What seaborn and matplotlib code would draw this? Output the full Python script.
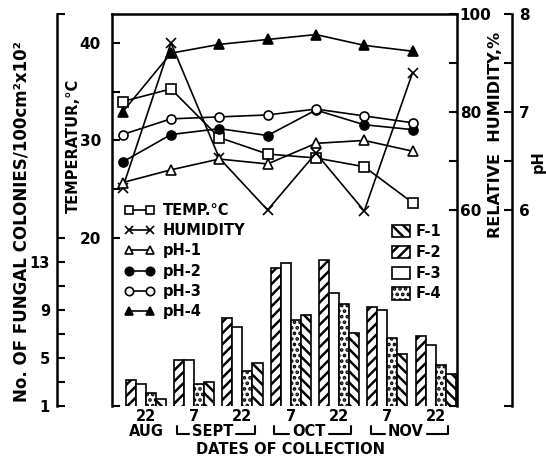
import numpy as np
import pandas as pd
import matplotlib
matplotlib.use("Agg")
import matplotlib.pyplot as plt
import matplotlib.transforms as mtransforms
from matplotlib.lines import Line2D
from matplotlib.patches import Patch
import seaborn as sns

# data
collection = ["22 AUG", "7 SEPT", "22 SEPT", "7 OCT", "22 OCT", "7 NOV", "22 NOV"]
day_labels = ["22", "7", "22", "7", "22", "7", "22"]
months = ["AUG", "SEPT", "OCT", "NOV"]
month_groups = [(0, 0), (1, 2), (3, 4), (5, 6)]

# fungal colonies / 100 cm2 x 10^2
f1 = [1.6, 3.0, 4.6, 8.6, 7.1, 5.3, 3.7]
f2 = [3.2, 4.8, 8.3, 12.5, 13.2, 9.3, 6.8]
f3 = [2.8, 4.8, 7.6, 12.9, 10.4, 9.0, 6.1]
f4 = [2.1, 2.8, 3.9, 8.2, 9.5, 6.7, 4.4]

temp = [34.0, 35.3, 30.3, 28.6, 28.2, 27.3, 23.6]
humidity = [64.5, 94.1, 70.6, 60.0, 71.6, 59.8, 88.0]
ph1 = [6.28, 6.41, 6.52, 6.47, 6.68, 6.71, 6.60]
ph2 = [6.49, 6.77, 6.83, 6.76, 7.02, 6.87, 6.82]
ph3 = [6.77, 6.93, 6.95, 6.97, 7.03, 6.96, 6.89]
ph4 = [7.00, 7.60, 7.69, 7.74, 7.79, 7.68, 7.62]

sns.set_style("ticks")
plt.rcParams["font.family"] = ["DejaVu Sans"]
plt.rcParams["font.weight"] = "bold"
plt.rcParams["hatch.linewidth"] = 1.8
for key in ["axes.edgecolor", "xtick.color", "ytick.color", "text.color", "axes.labelcolor"]:
    plt.rcParams[key] = "black"
FS = 10.5

bars = pd.DataFrame({
    "collection": collection * 4,
    "fungus": ["F-1"] * 7 + ["F-2"] * 7 + ["F-3"] * 7 + ["F-4"] * 7,
    "count": f1 + f2 + f3 + f4,
})

W, H = 546, 463
fig = plt.figure(figsize=(W / 100, H / 100), dpi=100)
ax = fig.add_axes([112 / W, 1 - 406 / H, 345 / W, 392 / H])

hue_order = ["F-2", "F-3", "F-4", "F-1"]
hatches = {"F-1": "\\\\\\", "F-2": "///", "F-3": "", "F-4": "..."}
sns.barplot(data=bars, x="collection", y="count", hue="fungus", order=collection,
            hue_order=hue_order, palette={k: "white" for k in hue_order},
            width=0.83, gap=0, saturation=1, edgecolor="black", linewidth=1.2,
            legend=False, ax=ax)
for cont, name in zip(ax.containers, hue_order):
    for b in cont:
        b.set_hatch(hatches[name])

ax_t = ax.twinx()
ax_h = ax.twinx()
ax_p = ax.twinx()

xl = np.arange(len(collection)) - 0.48
line_kw = dict(color="black", linewidth=1.2, markersize=6.5, markeredgewidth=1.2,
               markeredgecolor="black", sort=False)
sns.lineplot(x=xl, y=temp, ax=ax_t, marker="s", markerfacecolor="white", **line_kw)
sns.lineplot(x=xl, y=humidity, ax=ax_h, marker="x", **line_kw)
sns.lineplot(x=xl, y=ph1, ax=ax_p, marker="^", markerfacecolor="white", **line_kw)
sns.lineplot(x=xl, y=ph2, ax=ax_p, marker="o", markerfacecolor="black", **line_kw)
sns.lineplot(x=xl, y=ph3, ax=ax_p, marker="o", markerfacecolor="white", **line_kw)
sns.lineplot(x=xl, y=ph4, ax=ax_p, marker="^", markerfacecolor="black", **line_kw)

ax.set_xlim(-0.70, 6.44)
ax.set_ylim(1, 33.7)
ax_t.set_ylim(2.7, 43)
ax_h.set_ylim(20, 100)
ax_p.set_ylim(4, 8)

for a in (ax, ax_t, ax_h, ax_p):
    for s in a.spines.values():
        s.set_visible(False)
        s.set_linewidth(1.8)
        s.set_color("black")
    a.set_xlabel("")
    a.set_ylabel("")

# fungal colonies axis (outer left)
ax.spines["left"].set_visible(True)
ax.spines["left"].set_position(("outward", 39.6))
ax.set_yticks([1, 5, 9, 13])
ax.set_yticks([3, 7, 11, 15, 33.69], minor=True)
ax.tick_params(axis="y", which="both", direction="in", length=6, width=1.5,
               labelsize=FS, pad=5)
ax.set_xticks(range(len(collection)))
ax.set_xticklabels(day_labels, fontsize=FS, fontweight="bold")
ax.tick_params(axis="x", length=0, pad=2)

# temperature axis (box left)
ax_t.spines["left"].set_visible(True)
ax_t.spines["top"].set_visible(True)
ax_t.yaxis.set_ticks_position("left")
ax_t.set_yticks([20, 30, 40])
ax_t.set_yticks([2.72, 25, 35], minor=True)
ax_t.tick_params(axis="y", which="both", direction="in", length=6, width=1.5,
                 labelsize=FS + 0.5, pad=8)

# humidity axis (box right)
ax_h.spines["right"].set_visible(True)
ax_h.set_yticks([60, 80, 100])
ax_h.set_yticks([20.05, 70, 90], minor=True)
ax_h.tick_params(axis="y", which="both", direction="in", length=6, width=1.5,
                 labelsize=FS + 0.5, pad=2)

# pH axis (outer right)
ax_p.spines["right"].set_visible(True)
ax_p.spines["right"].set_position(("outward", 39.6))
ax_p.set_yticks([6, 7, 8])
ax_p.set_yticks([4.005, 6.5, 7.5], minor=True)
ax_p.tick_params(axis="y", which="both", direction="in", length=6, width=1.5,
                 labelsize=FS + 0.5, pad=5)

for a in (ax, ax_t, ax_h, ax_p):
    for lab in a.get_yticklabels():
        lab.set_fontweight("bold")

# axis titles
def fx(px):
    return px / W

def fy(py):
    return 1 - py / H

fig.text(fx(22), fy(222), "No. OF FUNGAL COLONIES/100cm\u00b2x10\u00b2", rotation=90,
         ha="center", va="center", fontsize=12, fontweight="bold")
fig.text(fx(73), fy(146), "TEMPERATUR,\u00b0C", rotation=90,
         ha="center", va="center", fontsize=FS, fontweight="bold")
fig.text(fx(495), fy(135), "RELATIVE  HUMIDITY,%", rotation=90,
         ha="center", va="center", fontsize=11.5, fontweight="bold")
fig.text(fx(538), fy(162), "pH", rotation=90,
         ha="center", va="center", fontsize=FS, fontweight="bold")

# month row with brackets
trans = mtransforms.blended_transform_factory(ax.transData, ax.transAxes)
y_mon = -0.066
y_top, y_base = -0.052, -0.071
month_texts = []
for name, (a0, a1) in zip(months, month_groups):
    xc = (a0 + a1) / 2 - (0.12 if a1 > a0 else -0.02)
    t = ax.text(xc, y_mon, name, transform=trans, ha="center", va="center",
                fontsize=FS, fontweight="bold")
    month_texts.append((t, a0, a1))
ax.text(3, -0.112, "DATES OF COLLECTION", transform=trans, ha="center",
        va="center", fontsize=FS, fontweight="bold")

fig.canvas.draw()
inv = ax.transData.inverted()
for t, a0, a1 in month_texts:
    if a1 == a0:
        continue
    bb = t.get_window_extent()
    x_l = inv.transform((bb.x0 - 3, 0))[0]
    x_r = inv.transform((bb.x1 + 3, 0))[0]
    ax.plot([a0 - 0.35, a0 - 0.35, x_l], [y_top, y_base, y_base], transform=trans,
            color="black", lw=1.5, clip_on=False)
    ax.plot([x_r, a1 + 0.25, a1 + 0.25], [y_base, y_base, y_top], transform=trans,
            color="black", lw=1.5, clip_on=False)

# legends
mk = dict(color="black", lw=1.2, markersize=6, markeredgewidth=1.2, markeredgecolor="black")
line_handles = [
    Line2D([], [], marker="s", markerfacecolor="white", **mk),
    Line2D([], [], marker="x", **mk),
    Line2D([], [], marker="^", markerfacecolor="white", **mk),
    Line2D([], [], marker="o", markerfacecolor="black", **mk),
    Line2D([], [], marker="o", markerfacecolor="white", **mk),
    Line2D([], [], marker="^", markerfacecolor="black", **mk),
]
line_labels = ["TEMP.\u00b0C", "HUMIDITY", "pH-1", "pH-2", "pH-3", "pH-4"]
leg1 = ax_p.legend(line_handles, line_labels, loc="upper left",
                   bbox_to_anchor=(fx(125), fy(203)), bbox_transform=fig.transFigure,
                   frameon=False, numpoints=2, handlelength=2.0, handletextpad=0.6,
                   labelspacing=0.36, borderpad=0, borderaxespad=0,
                   prop={"size": FS, "weight": "bold"})
ax_p.add_artist(leg1)

bar_handles = [Patch(facecolor="white", edgecolor="black", hatch=hatches[k], lw=1.2)
               for k in ["F-1", "F-2", "F-3", "F-4"]]
ax_p.legend(bar_handles, ["F-1", "F-2", "F-3", "F-4"], loc="upper left",
            bbox_to_anchor=(fx(392), fy(224)), bbox_transform=fig.transFigure,
            frameon=False, handlelength=1.2, handleheight=0.9, handletextpad=0.4,
            labelspacing=0.4, borderpad=0, borderaxespad=0,
            prop={"size": FS, "weight": "bold"})

fig.savefig("out.png", dpi=100)
